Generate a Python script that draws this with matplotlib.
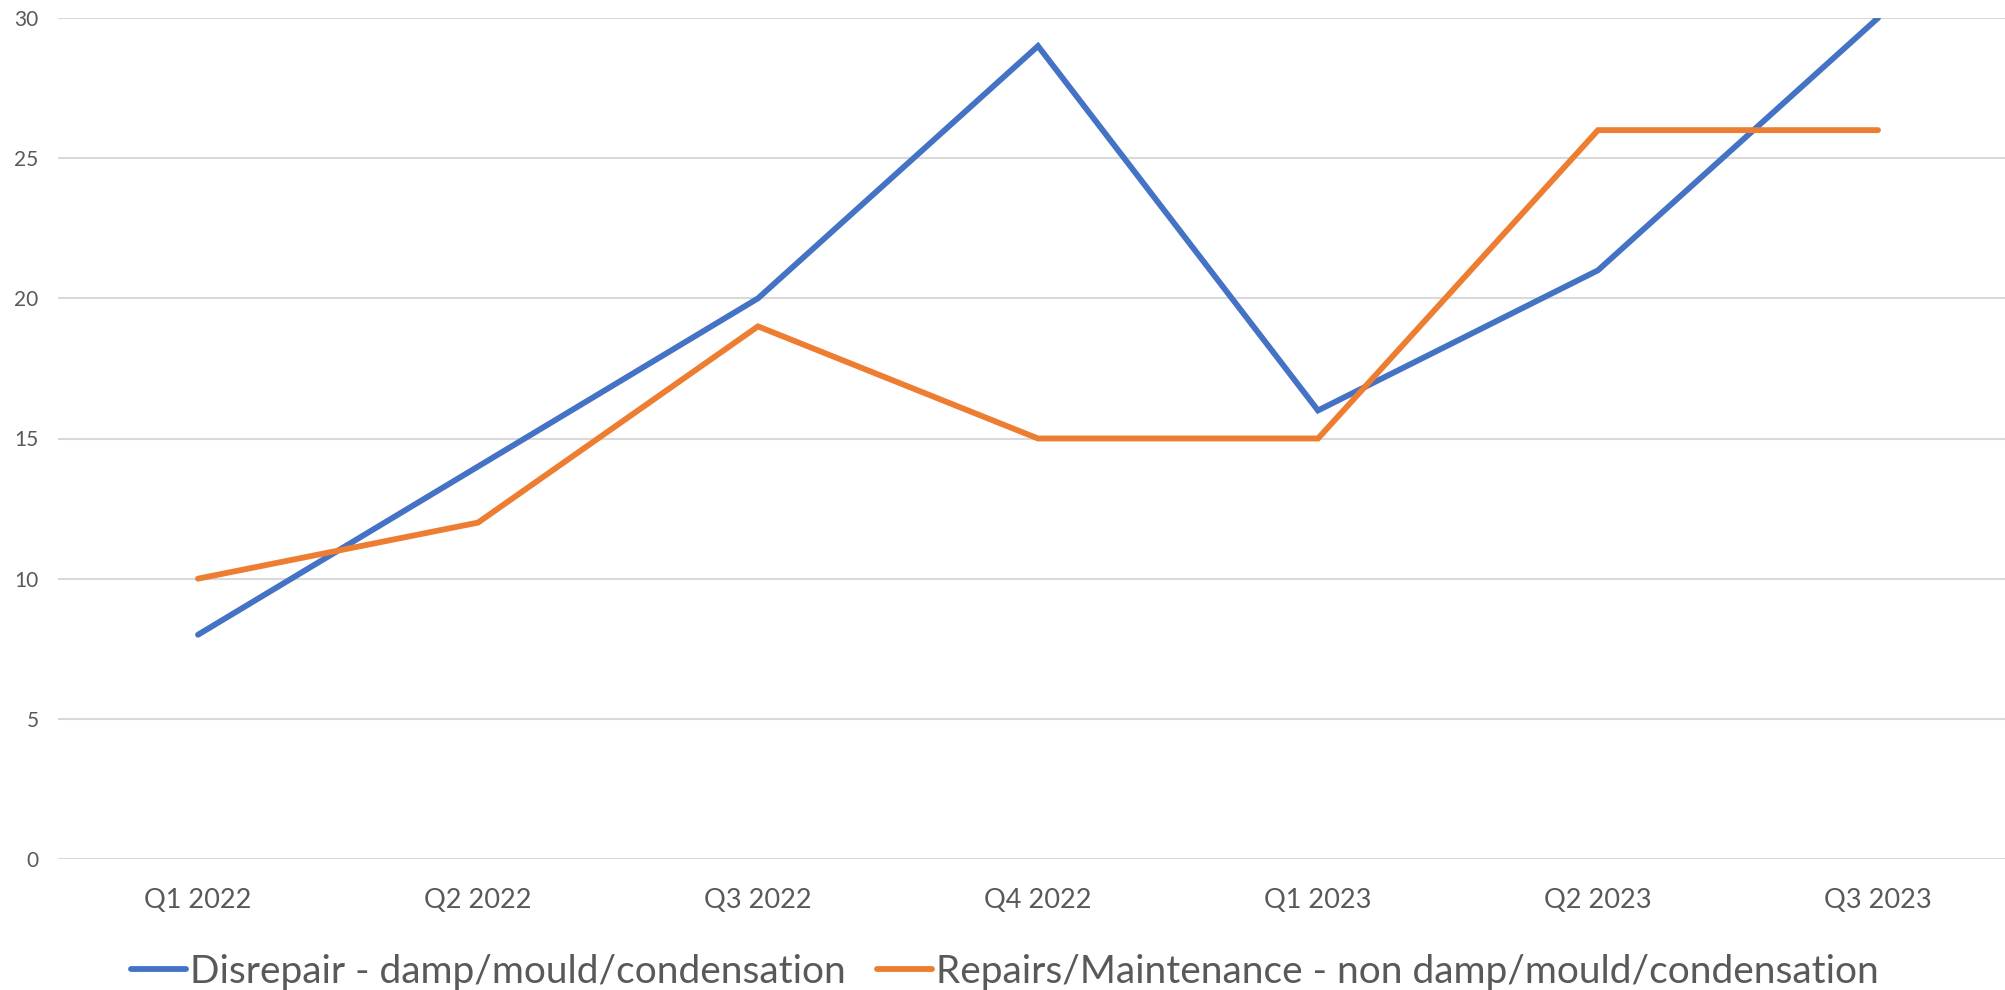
import matplotlib
matplotlib.use("Agg")
import matplotlib.pyplot as plt

categories = ["Q1 2022", "Q2 2022", "Q3 2022", "Q4 2022", "Q1 2023", "Q2 2023", "Q3 2023"]
disrepair = [8, 14, 20, 29, 16, 21, 30]
repairs = [10, 12, 19, 15, 15, 26, 26]
series_names = ["Disrepair - damp/mould/condensation",
                "Repairs/Maintenance - non damp/mould/condensation"]
yticks = [0, 5, 10, 15, 20, 25, 30]

plt.rcParams['font.family'] = ['Lato', 'DejaVu Sans']
TXT = '#595959'

fig = plt.figure(figsize=(20.05, 9.90), dpi=100)
ax = fig.add_axes([58/2005, 131/990, 1960/2005, 841/990])

x = list(range(len(categories)))
l1, = ax.plot(x, disrepair, color='#4472C4', lw=4.2, solid_capstyle='round',
              solid_joinstyle='miter')
l2, = ax.plot(x, repairs, color='#ED7D31', lw=4.2, solid_capstyle='round',
              solid_joinstyle='miter')

ax.set_xlim(-0.5, 6.5)
ax.set_ylim(0, 30)
ax.set_yticks(yticks)
ax.set_xticks(x)
ax.set_xticklabels(categories)
ax.yaxis.grid(True, color='#d9d9d9', lw=1.5)
ax.set_axisbelow(True)
for s in ax.spines.values():
    s.set_visible(False)
ax.tick_params(axis='both', length=0, colors=TXT)
ax.tick_params(axis='x', labelsize=19.5, pad=21)
ax.tick_params(axis='y', labelsize=15, pad=14)

fig.legend([l1, l2], series_names, loc='center', bbox_to_anchor=(1005/2005, 1 - 972/990),
           ncol=2, frameon=False, fontsize=28, handlelength=1.4, handletextpad=0.12,
           columnspacing=0.8, labelcolor=TXT, borderpad=0, borderaxespad=0)

fig.savefig("out.png", dpi=100)
